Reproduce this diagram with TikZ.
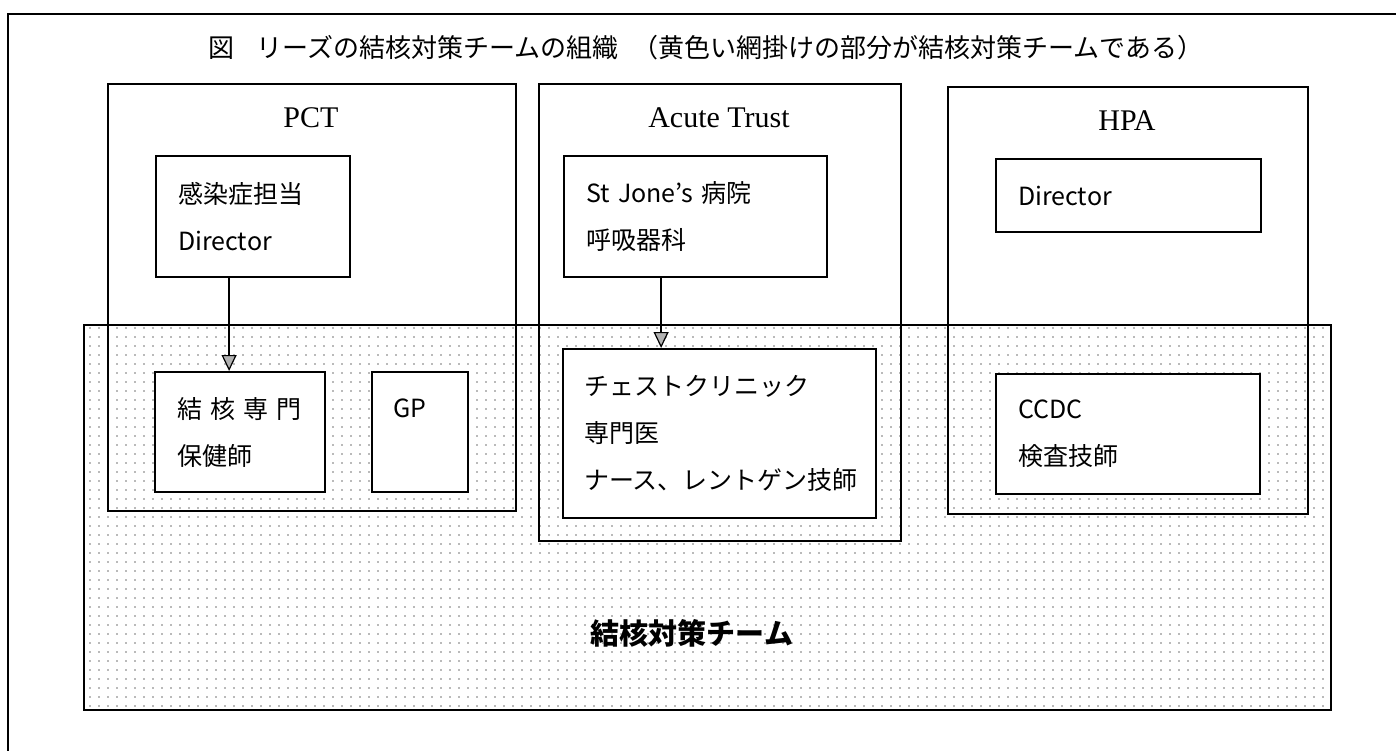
\documentclass[tikz,border=0pt]{standalone}
\usepackage{fontspec}
\setmainfont{Liberation Serif}
\newfontfamily\jp{Noto Sans CJK JP}
\usetikzlibrary{arrows.meta,patterns.meta}
\tikzset{
  frame/.style={line width=2.2pt},
  orgbox/.style={draw, line width=2.2pt, anchor=north west, inner sep=0pt},
  teambox/.style={draw, line width=2.2pt, anchor=north west, inner sep=0pt,
    pattern={Dots[distance=9pt,radius=0.9pt]}, pattern color=black!55},
  inbox/.style={draw, line width=2.2pt, fill=white, anchor=north west,
    inner xsep=22pt, inner ysep=0pt, align=left,
    font=\jp\fontsize{25}{47}\selectfont},
  orglabel/.style={font=\fontsize{30}{36}\selectfont},
  arr/.style={line width=2pt, -{Triangle[length=16pt,width=15pt,fill=gray!60,line width=1.2pt]}},
}
\begin{document}
\begin{tikzpicture}[x=1pt,y=-1pt]
\useasboundingbox (0,0) rectangle (1396,751);
% outer frame
\draw[frame] (8,751) -- (8,14) -- (1396,14);
% title
\node[font=\jp\fontsize{26}{30}\selectfont] (title) at (706,48)
  {図\hspace{22pt}リーズの結核対策チームの組織\hspace{14pt}（黄色い網掛けの部分が結核対策チームである）};
% team box
\node[teambox, minimum width=1247pt, minimum height=385pt] (team) at (83,324) {};
\node[font=\jp\bfseries\fontsize{29}{34}\selectfont] (teamlabel) at (692,633) {結核対策チーム};
% organisation boxes
\node[orgbox, minimum width=408pt, minimum height=427pt] (pct) at (107,83) {};
\node[orgbox, minimum width=362pt, minimum height=457pt] (acute) at (538,83) {};
\node[orgbox, minimum width=360pt, minimum height=427pt] (hpa) at (947,86) {};
\node[orglabel] (pctl) at (311,118) {PCT};
\node[orglabel] (acutel) at (719,118) {Acute Trust};
\node[orglabel] (hpal) at (1127,121) {HPA};
% inner boxes
\node[inbox, text width=150pt, minimum height=121pt] (dir1) at (155,155) {感染症担当\\Director};
\node[inbox, text width=126pt, minimum height=120pt] (hoken) at (154,371)
  {結\hspace{8pt}核\hspace{8pt}専\hspace{8pt}門\\保健師};
\node[inbox, inner xsep=21pt, text width=54pt, minimum height=120pt] (gp) at (371,371) {GP\\\mbox{}};
\node[inbox, text width=219pt, minimum height=121pt] (stj) at (563,155) {St Jone’s 病院\\呼吸器科};
\node[inbox, inner xsep=21pt, text width=271pt, minimum height=169pt] (chest) at (562,348)
  {チェストクリニック\\専門医\\ナース、レントゲン技師};
\node[inbox, text width=221pt, minimum height=73pt] (hdir) at (995,158) {Director};
\node[inbox, text width=220pt, minimum height=120pt] (ccdc) at (995,373) {CCDC\\検査技師};
% arrows
\draw[arr] ([xshift=-24pt]dir1.south) -- ([xshift=-11pt]hoken.north);
\draw[arr] ([xshift=-34.5pt]stj.south) -- ([xshift=-58.5pt]chest.north);
\end{tikzpicture}
\end{document}
